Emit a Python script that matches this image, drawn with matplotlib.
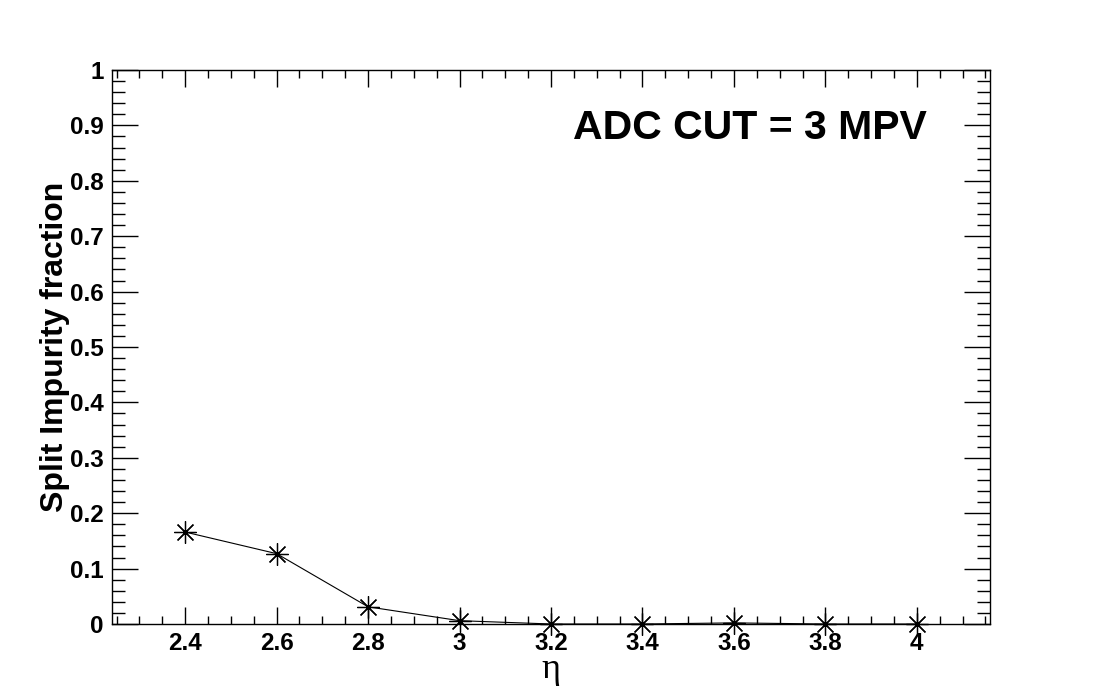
import matplotlib
matplotlib.use("Agg")
import matplotlib.pyplot as plt
from matplotlib.ticker import MultipleLocator

# eta bins and split impurity fraction
eta = [2.4, 2.6, 2.8, 3.0, 3.2, 3.4, 3.6, 3.8, 4.0]
impurity = [0.166, 0.127, 0.031, 0.006, 0.0, 0.0, 0.002, 0.0, 0.0]

plt.rcParams['font.family'] = ['Liberation Sans', 'DejaVu Sans']
plt.rcParams['font.weight'] = 'bold'

fig = plt.figure(figsize=(11.01, 6.94), dpi=100)
ax = fig.add_axes([112 / 1101, 1 - 624 / 694, 878 / 1101, 554 / 694])

ax.plot(eta, impurity, color='black', lw=0.8, marker=(8, 2, 0), ms=16,
        mew=0.9, mec='black', clip_on=False, zorder=3)

ax.set_xlim(2.24, 4.16)
ax.set_ylim(0, 1)
ax.xaxis.set_minor_locator(MultipleLocator(0.05))
ax.yaxis.set_minor_locator(MultipleLocator(0.02))
ax.set_xticks([2.4, 2.6, 2.8, 3.0, 3.2, 3.4, 3.6, 3.8, 4.0])
ax.set_xticklabels(['2.4', '2.6', '2.8', '3', '3.2', '3.4', '3.6', '3.8', '4'])
ax.set_yticks([0, 0.1, 0.2, 0.3, 0.4, 0.5, 0.6, 0.7, 0.8, 0.9, 1.0])
ax.set_yticklabels(['0', '0.1', '0.2', '0.3', '0.4', '0.5', '0.6', '0.7', '0.8', '0.9', '1'])

ax.tick_params(which='both', direction='in', top=True, right=True, width=1,
               labelsize=17.5, colors='black')
ax.tick_params(axis='x', which='major', length=12, pad=6)
ax.tick_params(axis='x', which='minor', length=6)
ax.tick_params(axis='y', which='major', length=19, pad=6)
ax.tick_params(axis='y', which='minor', length=9.5)
for lbl in ax.get_xticklabels() + ax.get_yticklabels():
    lbl.set_fontweight('bold')
for s in ax.spines.values():
    s.set_linewidth(1)

ax.set_ylabel('Split Impurity fraction', fontsize=23, fontweight='bold', va='center')
ax.yaxis.set_label_coords(-57 / 878, 0.5)
fig.text(551 / 1101, 1 - 670 / 694, 'η', fontsize=26, ha='center', va='center',
         family=['Liberation Serif', 'DejaVu Serif'], fontweight='normal')
fig.text(750 / 1101, 1 - 128 / 694, 'ADC CUT = 3 MPV', fontsize=29.5, fontweight='bold',
         ha='center', va='center')

fig.savefig('out.png', dpi=100)
